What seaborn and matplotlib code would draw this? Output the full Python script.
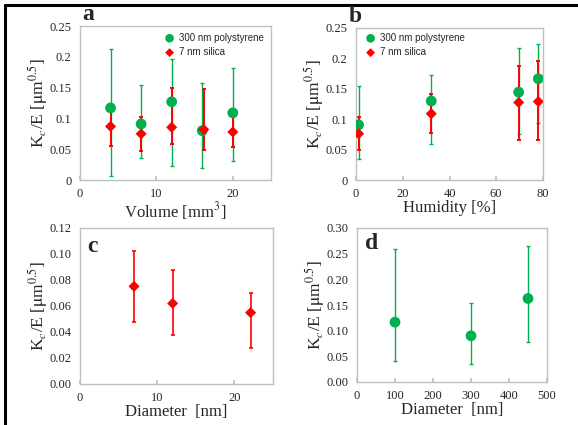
import matplotlib
matplotlib.use("Agg")
import matplotlib.pyplot as plt
import seaborn as sns
import numpy as np
import pandas as pd
from matplotlib.lines import Line2D

sns.set_theme(style="white")
plt.rcParams['font.family'] = ['Liberation Serif', 'DejaVu Serif']
plt.rcParams['mathtext.fontset'] = 'stix'

GREEN = "#00B050"
RED = "#FF0000"

# Panel a: Volume
vol_ps = [4, 8, 12, 16, 20]
ps_a = [0.117, 0.091, 0.127, 0.080, 0.109]
ps_a_hi = [0.213, 0.154, 0.197, 0.157, 0.182]
ps_a_lo = [0.006, 0.035, 0.022, 0.019, 0.031]
vol_si = [4, 8, 12, 16.2, 20]
si_a = [0.087, 0.075, 0.0855, 0.082, 0.078]
si_a_hi = [0.115, 0.102, 0.150, 0.147, 0.102]
si_a_lo = [0.055, 0.047, 0.058, 0.048, 0.054]

# Panel b: Humidity
hum = [1.1, 32.2, 69.6, 78.0]
ps_b = [0.0907, 0.130, 0.1445, 0.1665]
ps_b_hi = [0.154, 0.1725, 0.2165, 0.223]
ps_b_lo = [0.035, 0.060, 0.075, 0.0945]
si_b = [0.076, 0.109, 0.1275, 0.129]
si_b_hi = [0.103, 0.142, 0.187, 0.196]
si_b_lo = [0.049, 0.077, 0.066, 0.066]

# Panel c: silica diameter
dia_c = [7.0, 12.0, 22.1]
val_c = [0.0751, 0.062, 0.0549]
val_c_hi = [0.102, 0.0877, 0.0703]
val_c_lo = [0.0477, 0.0377, 0.0277]

# Panel d: polystyrene diameter
dia_d = [100, 300, 450]
val_d = [0.1166, 0.090, 0.1627]
val_d_hi = [0.260, 0.1536, 0.265]
val_d_lo = [0.041, 0.035, 0.078]

ticks_ab = [0, 0.05, 0.1, 0.15, 0.2, 0.25]
ticklabels_ab = ["0", "0.05", "0.1", "0.15", "0.2", "0.25"]
ticks_c = [0, 0.02, 0.04, 0.06, 0.08, 0.10, 0.12]
ticklabels_c = ["0.00", "0.02", "0.04", "0.06", "0.08", "0.10", "0.12"]
ticks_d = [0, 0.05, 0.10, 0.15, 0.20, 0.25, 0.30]
ticklabels_d = ["0.00", "0.05", "0.10", "0.15", "0.20", "0.25", "0.30"]

W, H = 578, 425
fig = plt.figure(figsize=(W / 100, H / 100), dpi=100)


def px_axes(l, t, r, b):
    return fig.add_axes([l / W, 1 - b / H, (r - l) / W, (b - t) / H])


YLABEL = r"K$_c$/E [$\mathrm{\mu}$m$^{0.5}$]"


def style(ax, xlim, xticks, ylim, yticks, yticklabels, xlabel):
    ax.set_xlim(*xlim)
    ax.set_ylim(*ylim)
    ax.set_xticks(xticks)
    ax.set_xticklabels([str(t) for t in xticks])
    ax.set_yticks(yticks)
    ax.set_yticklabels(yticklabels)
    for s in ax.spines.values():
        s.set_color("#BFBFBF")
        s.set_linewidth(1.0)
    ax.tick_params(axis="x", direction="in", length=3, color="#BFBFBF",
                   labelsize=9, pad=6, bottom=True)
    ax.tick_params(axis="y", length=0, labelsize=9, pad=6)
    ax.set_xlabel(xlabel, fontsize=12, labelpad=0)
    ax.set_ylabel(YLABEL, fontsize=12.5, labelpad=0)
    ax.grid(False)


def errs(ax, x, y, hi, lo, color, lw):
    y = np.array(y); hi = np.array(hi); lo = np.array(lo)
    ax.errorbar(x, y, yerr=[y - lo, hi - y], fmt="none", ecolor=color,
                elinewidth=lw, capsize=1.5, capthick=lw, zorder=2)


# Panel a
ax = px_axes(80, 26, 271, 180)
errs(ax, vol_ps, ps_a, ps_a_hi, ps_a_lo, GREEN, 1.0)
errs(ax, vol_si, si_a, si_a_hi, si_a_lo, RED, 1.4)
sns.scatterplot(x=vol_ps, y=ps_a, ax=ax, color=GREEN, marker="o", s=60,
                edgecolor="none", zorder=3, label="300 nm polystyrene")
sns.scatterplot(x=vol_si, y=si_a, ax=ax, color=RED, marker="D", s=32,
                edgecolor="none", zorder=4, label="7 nm silica")
style(ax, (0, 25), [0, 10, 20], (0, 0.25), ticks_ab, ticklabels_ab,
      r"Volume [mm$^3$]")
ax.legend(loc="upper right", frameon=False, handletextpad=0.0,
          borderaxespad=0.3, labelspacing=0.45, markerscale=0.8,
          prop={"family": "Liberation Sans", "size": 7})
fig.text(82 / W, 1 - 15 / H, "a", fontsize=17, fontweight="bold", va="center")

# Panel b
ax = px_axes(356, 28, 543, 180)
errs(ax, hum, ps_b, ps_b_hi, ps_b_lo, GREEN, 1.0)
errs(ax, hum, si_b, si_b_hi, si_b_lo, RED, 1.4)
sns.scatterplot(x=hum, y=ps_b, ax=ax, color=GREEN, marker="o", s=60,
                edgecolor="none", zorder=3, label="300 nm polystyrene")
sns.scatterplot(x=hum, y=si_b, ax=ax, color=RED, marker="D", s=32,
                edgecolor="none", zorder=4, label="7 nm silica")
style(ax, (0, 80), [0, 20, 40, 60, 80], (0, 0.25), ticks_ab, ticklabels_ab,
      "Humidity [%]")
ax.legend(loc="upper left", frameon=False, handletextpad=0.0,
          borderaxespad=0.1, labelspacing=0.45, markerscale=0.8,
          prop={"family": "Liberation Sans", "size": 7})
fig.text(349 / W, 1 - 16 / H, "b", fontsize=17, fontweight="bold", va="center")

# Panel c
ax = px_axes(80, 228, 273, 384)
errs(ax, dia_c, val_c, val_c_hi, val_c_lo, RED, 1.2)
sns.scatterplot(x=dia_c, y=val_c, ax=ax, color=RED, marker="D", s=32,
                edgecolor="none", zorder=4)
style(ax, (0, 25), [0, 10, 20], (0, 0.12), ticks_c, ticklabels_c,
      "Diameter  [nm]")
ax.text(0.04, 0.95, "c", transform=ax.transAxes, fontsize=17,
        fontweight="bold", va="top")

# Panel d
ax = px_axes(357, 228, 547, 382)
errs(ax, dia_d, val_d, val_d_hi, val_d_lo, GREEN, 1.0)
sns.scatterplot(x=dia_d, y=val_d, ax=ax, color=GREEN, marker="o", s=60,
                edgecolor="none", zorder=3)
style(ax, (0, 500), [0, 100, 200, 300, 400, 500], (0, 0.30), ticks_d,
      ticklabels_d, "Diameter  [nm]")
ax.text(0.04, 0.97, "d", transform=ax.transAxes, fontsize=17,
        fontweight="bold", va="top")

# outer frame
fig.add_artist(Line2D([5 / W, 1], [1 - 5 / H, 1 - 5 / H], color="black",
                      lw=2.2, transform=fig.transFigure))
fig.add_artist(Line2D([5 / W, 5 / W], [1 - 5 / H, 0], color="black",
                      lw=2.2, transform=fig.transFigure))

fig.savefig("out.png", dpi=100)
